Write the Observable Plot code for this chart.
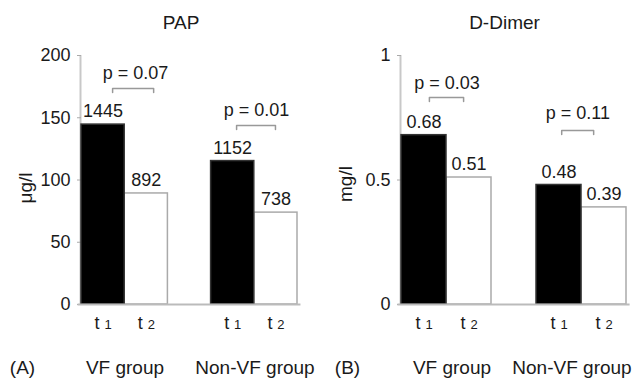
<!DOCTYPE html>
<html><head><meta charset="utf-8">
<script src="https://cdn.jsdelivr.net/npm/d3@7"></script>
<script src="https://cdn.jsdelivr.net/npm/@observablehq/plot@0.6"></script>
<style>
body{margin:0;background:#fff;}
#root{position:relative;width:633px;height:379px;overflow:hidden;font-family:"Liberation Sans",Arial,sans-serif;color:#1a1a1a;}
.panel{position:absolute;top:0;}
.lbl{position:absolute;transform:translate(-50%,-50%);white-space:nowrap;font-size:19px;line-height:1;}
.rot{transform:translate(-50%,-50%) rotate(-90deg);}
</style></head><body><div id="root"></div>
<script>
// ---- data ----
const panelTitles = ["PAP", "D-Dimer"];
const panelTags = ["(A)", "(B)"];
const yLabels = ["μg/l", "mg/l"];
const groups = ["VF group", "Non-VF group"];
const timeSubs = ["1", "2"];            // t₁, t₂
const papHeights = [144.5, 89.2, 115.2, 73.8];
const papLabels = ["1445", "892", "1152", "738"];
const papTicks = [0, 50, 100, 150, 200];
const papP = ["p = 0.07", "p = 0.01"];
const dimerValues = [0.68, 0.51, 0.48, 0.39];
const dimerLabels = ["0.68", "0.51", "0.48", "0.39"];
const dimerTicks = [0, 0.5, 1];
const dimerP = ["p = 0.03", "p = 0.11"];

// annotation placement (bracket height, bracket span relative to group start, p-text placement)
const papBracketY = [173.5, 143.8];
const papPY = [185.5, 156];
const papBracketX = [[0.72, 1.67], [0.59, 1.49]];
const papPX = [1.25, 1.05];
const dimerBracketY = [0.831, 0.699];
const dimerPY = [0.888, 0.767];
const dimerBracketX = [[0.62, 1.38], [0.56, 1.27]];
const dimerPX = [1.01, 0.92];

const FONT = '"Liberation Sans", Arial, sans-serif';
const root = document.getElementById("root");

function panel(o) {
  const bars = o.heights.map((v, i) => ({g: Math.floor(i / 2), t: i % 2, slot: Math.floor(i / 2) * 3 + (i % 2), v, label: o.labels[i]}));
  const drop = o.yMax * 4 / 249;
  const br = [];
  o.pTexts.forEach((p, g) => {
    const x0 = g * 3, [a, b] = o.bX[g], y = o.bY[g];
    br.push({k: g, x: x0 + a, y: y - drop}, {k: g, x: x0 + a, y}, {k: g, x: x0 + b, y}, {k: g, x: x0 + b, y: y - drop});
  });
  const pts = o.pTexts.map((p, g) => ({x: g * 3 + o.pX[g], y: o.pY[g], text: p}));
  const svg = Plot.plot({
    width: o.width, height: 379,
    marginLeft: o.mL, marginRight: o.mR, marginTop: 55, marginBottom: 75,
    x: {domain: [0, 5], axis: null},
    y: {domain: [0, o.yMax], axis: null},
    style: {fontFamily: FONT, fontSize: "18px", color: "#1a1a1a", background: "transparent", overflow: "visible"},
    marks: [
      Plot.ruleX([0], {y1: 0, y2: o.yMax, stroke: "#c8c8c8", strokeWidth: 2, dx: -1}),
      Plot.axisY({ticks: o.ticks, tickSize: 4, tickPadding: 7, tickFormat: o.fmt, stroke: "#aaa", fill: "#1a1a1a", fontSize: 18}),
      Plot.rectY(bars.filter(d => d.t === 1), {x1: "slot", x2: d => d.slot + 1, y1: 0, y2: "v", fill: "white", stroke: "#aaa", strokeWidth: 1.5}),
      Plot.rectY(bars.filter(d => d.t === 0), {x1: "slot", x2: d => d.slot + 1, y1: 0, y2: "v", fill: "black", stroke: "#333", strokeWidth: 1.5}),
      Plot.ruleY([0], {x1: -0.08, x2: 5.08, stroke: "#bbb", strokeWidth: 2}),
      Plot.text(bars, {x: d => d.slot + 0.5, y: "v", text: "label", dy: -13, fontSize: 18}),
      Plot.text(bars, {x: d => d.slot + 0.5, y: 0, text: d => "t", dx: -6, dy: 24, lineAnchor: "bottom", fontSize: 18}),
      Plot.text(bars, {x: d => d.slot + 0.5, y: 0, text: d => timeSubs[d.t], dx: 5, dy: 24, lineAnchor: "bottom", fontSize: 13}),
      Plot.line(br, {x: "x", y: "y", z: "k", stroke: "#999", strokeWidth: 1.5, strokeLinejoin: "round"}),
      Plot.text(pts, {x: "x", y: "y", text: "text", fontSize: 18})
    ]
  });
  const wrap = document.createElement("div");
  wrap.className = "panel";
  wrap.style.left = o.left + "px";
  wrap.appendChild(svg);
  root.appendChild(wrap);
}

panel({heights: papHeights, labels: papLabels, ticks: papTicks, yMax: 200, fmt: d => String(d),
  pTexts: papP, bY: papBracketY, pY: papPY, bX: papBracketX, pX: papPX,
  left: 0, width: 316, mL: 81, mR: 19});
panel({heights: dimerValues, labels: dimerLabels, ticks: dimerTicks, yMax: 1, fmt: d => String(d),
  pTexts: dimerP, bY: dimerBracketY, pY: dimerPY, bX: dimerBracketX, pX: dimerPX,
  left: 316, width: 317, mL: 85, mR: 7});

function label(text, x, y, cls) {
  const el = document.createElement("div");
  el.className = "lbl" + (cls ? " " + cls : "");
  el.textContent = text;
  el.style.left = x + "px";
  el.style.top = y + "px";
  root.appendChild(el);
}
label(panelTitles[0], 181, 22);
label(panelTitles[1], 504.5, 22);
label(yLabels[0], 25, 187.5, "rot");
label(yLabels[1], 345, 184, "rot");
label(panelTags[0], 22.5, 367);
label(groups[0], 125, 367);
label(groups[1], 255, 367);
label(panelTags[1], 347.5, 367);
label(groups[0], 452, 367);
label(groups[1], 572, 367);
</script></body></html>
